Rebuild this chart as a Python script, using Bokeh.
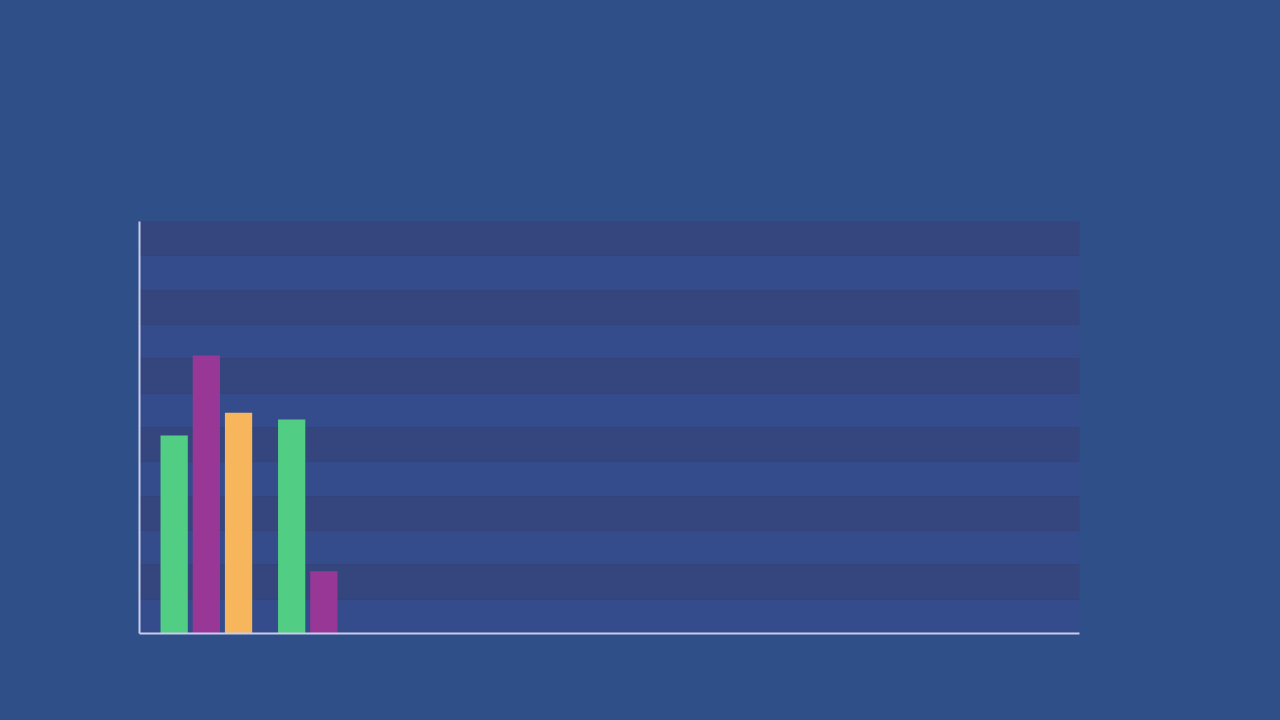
import bokeh.models
import bokeh.plotting
import bokeh.transform
from bokeh.embed import file_html
from bokeh.resources import INLINE

# group positions along the x axis (8 slots, only the first two filled)
groups = [0, 1]
green_values = [5.77, 6.23]
purple_values = [8.10, 1.81]
orange_groups = [0]
orange_values = [6.43]

n_slots = 8
y_max = 12

bg = "#2E4F87"
band_dark = "#35467F"
band_light = "#344C8C"
axis_color = "#C9CCEB"

p = bokeh.plotting.figure(
    width=1264,
    height=704,
    x_range=(0, n_slots),
    y_range=(0, y_max),
    output_backend="svg",
    toolbar_location=None,
    tools="",
    min_border_left=139,
    min_border_right=185,
    min_border_top=221,
    min_border_bottom=71,
)

p.border_fill_color = bg
p.background_fill_color = band_light
p.outline_line_color = None

# alternating horizontal bands
p.ygrid.ticker = bokeh.models.SingleIntervalTicker(interval=1)
p.ygrid.band_fill_color = band_dark
p.ygrid.band_fill_alpha = 1.0
p.ygrid.grid_line_color = "#34447B"
p.ygrid.grid_line_width = 1
p.xgrid.grid_line_color = None

for ax in (p.xaxis, p.yaxis):
    ax.axis_line_color = axis_color
    ax.axis_line_width = 2
    ax.major_tick_line_color = None
    ax.minor_tick_line_color = None
    ax.major_label_text_font_size = "0px"
    ax.major_label_text_color = None

green_src = bokeh.models.ColumnDataSource(dict(x=groups, top=green_values))
purple_src = bokeh.models.ColumnDataSource(dict(x=groups, top=purple_values))
orange_src = bokeh.models.ColumnDataSource(dict(x=orange_groups, top=orange_values))

bar_width = 0.232
p.vbar(x=bokeh.transform.dodge('x', 0.295, range=p.x_range), top='top', width=bar_width,
       source=green_src, fill_color="#52CD84", line_color=None)
p.vbar(x=bokeh.transform.dodge('x', 0.569, range=p.x_range), top='top', width=bar_width,
       source=purple_src, fill_color="#993797", line_color=None)
p.vbar(x=bokeh.transform.dodge('x', 0.843, range=p.x_range), top='top', width=bar_width,
       source=orange_src, fill_color="#F8B65C", line_color=None)

p.stylesheets = [bokeh.models.GlobalInlineStyleSheet(css="body { background: %s; }" % bg)]

open("out.html", "w").write(file_html(p, INLINE))
